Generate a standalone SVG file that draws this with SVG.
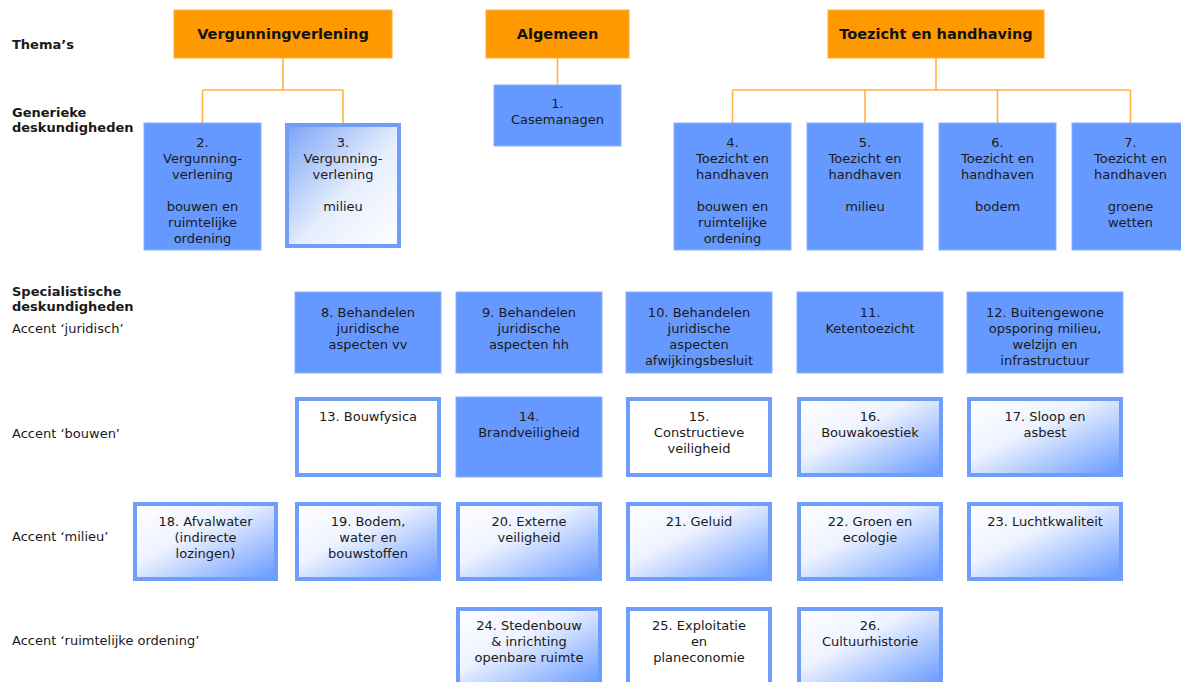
<svg xmlns="http://www.w3.org/2000/svg" width="1181" height="682" viewBox="0 0 1181 682">
<defs>
<linearGradient id="gw" x1="0" y1="0" x2="1" y2="1">
<stop offset="0" stop-color="#ffffff"/>
<stop offset="0.4" stop-color="#eef3ff"/>
<stop offset="1" stop-color="#6699ff"/>
</linearGradient>
<linearGradient id="gb" x1="0" y1="0" x2="1" y2="1">
<stop offset="0" stop-color="#7aa3f6"/>
<stop offset="0.55" stop-color="#e6eefd"/>
<stop offset="1" stop-color="#ffffff"/>
</linearGradient>
<style>
.or{fill:#FF9900;stroke:#FFAB3A;stroke-width:1}
.ti{font-family:"DejaVu Sans",Verdana,sans-serif;font-size:14.5px;font-weight:bold;fill:#111;text-anchor:middle}
.so{fill:#6699FF;stroke:#88B0FF;stroke-width:1}
.ou{fill:#ffffff;stroke:#6E9EF9;stroke-width:4}
.gr{fill:url(#gw);stroke:#6E9EF9;stroke-width:4}
.gb{fill:url(#gb);stroke:#6E9EF9;stroke-width:4}
.t{font-family:"DejaVu Sans",Verdana,sans-serif;font-size:13px;fill:#1a1a1a;text-anchor:middle}
.lb{font-family:"DejaVu Sans",Verdana,sans-serif;font-size:13px;fill:#1a1a1a}
.bd{font-weight:bold}
.cn{stroke:#FFB347;stroke-width:1.6;fill:none}
</style>
</defs>
<rect width="1181" height="682" fill="#ffffff"/>

<g id="labels">
<text class="lb bd" x="12" y="49">Thema’s</text>
<text class="lb bd" x="12" y="117">Generieke</text>
<text class="lb bd" x="12" y="132">deskundigheden</text>
<text class="lb bd" x="12" y="296">Specialistische</text>
<text class="lb bd" x="12" y="311">deskundigheden</text>
<text class="lb" x="12" y="333">Accent ‘juridisch’</text>
<text class="lb" x="12" y="438">Accent ‘bouwen’</text>
<text class="lb" x="12" y="541">Accent ‘milieu’</text>
<text class="lb" x="12" y="645">Accent ‘ruimtelijke ordening’</text>
</g>

<g id="connectors">
<path class="cn" d="M283 58V90M202.5 90H343M202.5 90V123M343 90V123"/>
<path class="cn" d="M557.5 58V85"/>
<path class="cn" d="M936 58V90M732.5 90H1130.5M732.5 90V123M865 90V123M997.5 90V123M1130.5 90V123"/>
</g>

<g id="theme-vergunningverlening"><rect class="or" x="174" y="10" width="218" height="48"/><text class="ti" x="283" y="39">Vergunningverlening</text></g>
<g id="theme-algemeen"><rect class="or" x="486" y="10" width="143" height="48"/><text class="ti" x="557.5" y="39">Algemeen</text></g>
<g id="theme-toezicht"><rect class="or" x="828" y="10" width="216" height="48"/><text class="ti" x="936" y="39">Toezicht en handhaving</text></g>

<g id="n1"><rect class="so" x="494" y="85" width="127" height="61"/><text class="t" x="557.5" y="108">1.<tspan x="557.5" dy="16">Casemanagen</tspan></text></g>
<g id="n2"><rect class="so" x="144" y="123" width="117" height="127"/><text class="t" x="202.5" y="147">2.<tspan x="202.5" dy="16">Vergunning-</tspan><tspan x="202.5" dy="16">verlening</tspan><tspan x="202.5" dy="32">bouwen en</tspan><tspan x="202.5" dy="16">ruimtelijke</tspan><tspan x="202.5" dy="16">ordening</tspan></text></g>
<g id="n3"><rect class="gb" x="287" y="125" width="112" height="121"/><text class="t" x="343" y="147">3.<tspan x="343" dy="16">Vergunning-</tspan><tspan x="343" dy="16">verlening</tspan><tspan x="343" dy="32">milieu</tspan></text></g>
<g id="n4"><rect class="so" x="674" y="123" width="117" height="127"/><text class="t" x="732.5" y="147">4.<tspan x="732.5" dy="16">Toezicht en</tspan><tspan x="732.5" dy="16">handhaven</tspan><tspan x="732.5" dy="32">bouwen en</tspan><tspan x="732.5" dy="16">ruimtelijke</tspan><tspan x="732.5" dy="16">ordening</tspan></text></g>
<g id="n5"><rect class="so" x="807" y="123" width="116" height="127"/><text class="t" x="865" y="147">5.<tspan x="865" dy="16">Toezicht en</tspan><tspan x="865" dy="16">handhaven</tspan><tspan x="865" dy="32">milieu</tspan></text></g>
<g id="n6"><rect class="so" x="939" y="123" width="117" height="127"/><text class="t" x="997.5" y="147">6.<tspan x="997.5" dy="16">Toezicht en</tspan><tspan x="997.5" dy="16">handhaven</tspan><tspan x="997.5" dy="32">bodem</tspan></text></g>
<g id="n7"><rect class="so" x="1072" y="123" width="117" height="127"/><text class="t" x="1130.5" y="147">7.<tspan x="1130.5" dy="16">Toezicht en</tspan><tspan x="1130.5" dy="16">handhaven</tspan><tspan x="1130.5" dy="32">groene</tspan><tspan x="1130.5" dy="16">wetten</tspan></text></g>

<g id="n8"><rect class="so" x="295" y="292" width="146" height="81"/><text class="t" x="368" y="317">8. Behandelen<tspan x="368" dy="16">juridische</tspan><tspan x="368" dy="16">aspecten vv</tspan></text></g>
<g id="n9"><rect class="so" x="456" y="292" width="146" height="81"/><text class="t" x="529" y="317">9. Behandelen<tspan x="529" dy="16">juridische</tspan><tspan x="529" dy="16">aspecten hh</tspan></text></g>
<g id="n10"><rect class="so" x="626" y="292" width="146" height="81"/><text class="t" x="699" y="317">10. Behandelen<tspan x="699" dy="16">juridische</tspan><tspan x="699" dy="16">aspecten</tspan><tspan x="699" dy="16">afwijkingsbesluit</tspan></text></g>
<g id="n11"><rect class="so" x="797" y="292" width="146" height="81"/><text class="t" x="870" y="317">11.<tspan x="870" dy="16">Ketentoezicht</tspan></text></g>
<g id="n12"><rect class="so" x="967" y="292" width="156" height="81"/><text class="t" x="1045" y="317">12. Buitengewone<tspan x="1045" dy="16">opsporing milieu,</tspan><tspan x="1045" dy="16">welzijn en</tspan><tspan x="1045" dy="16">infrastructuur</tspan></text></g>

<g id="n13"><rect class="ou" x="297" y="399" width="142" height="76"/><text class="t" x="368" y="421">13. Bouwfysica</text></g>
<g id="n14"><rect class="so" x="456" y="397" width="146" height="80"/><text class="t" x="529" y="421">14.<tspan x="529" dy="16">Brandveiligheid</tspan></text></g>
<g id="n15"><rect class="ou" x="628" y="399" width="142" height="76"/><text class="t" x="699" y="421">15.<tspan x="699" dy="16">Constructieve</tspan><tspan x="699" dy="16">veiligheid</tspan></text></g>
<g id="n16"><rect class="gr" x="799" y="399" width="142" height="76"/><text class="t" x="870" y="421">16.<tspan x="870" dy="16">Bouwakoestiek</tspan></text></g>
<g id="n17"><rect class="gr" x="969" y="399" width="152" height="76"/><text class="t" x="1045" y="421">17. Sloop en<tspan x="1045" dy="16">asbest</tspan></text></g>

<g id="n18"><rect class="gr" x="135" y="504" width="141" height="75"/><text class="t" x="205.5" y="526">18. Afvalwater<tspan x="205.5" dy="16">(indirecte</tspan><tspan x="205.5" dy="16">lozingen)</tspan></text></g>
<g id="n19"><rect class="gr" x="297" y="504" width="142" height="75"/><text class="t" x="368" y="526">19. Bodem,<tspan x="368" dy="16">water en</tspan><tspan x="368" dy="16">bouwstoffen</tspan></text></g>
<g id="n20"><rect class="gr" x="458" y="504" width="142" height="75"/><text class="t" x="529" y="526">20. Externe<tspan x="529" dy="16">veiligheid</tspan></text></g>
<g id="n21"><rect class="gr" x="628" y="504" width="142" height="75"/><text class="t" x="699" y="526">21. Geluid</text></g>
<g id="n22"><rect class="gr" x="799" y="504" width="142" height="75"/><text class="t" x="870" y="526">22. Groen en<tspan x="870" dy="16">ecologie</tspan></text></g>
<g id="n23"><rect class="gr" x="969" y="504" width="152" height="75"/><text class="t" x="1045" y="526">23. Luchtkwaliteit</text></g>

<g id="n24"><rect class="gr" x="458" y="609" width="142" height="76"/><text class="t" x="529" y="630">24. Stedenbouw<tspan x="529" dy="16">&amp; inrichting</tspan><tspan x="529" dy="16">openbare ruimte</tspan></text></g>
<g id="n25"><rect class="ou" x="628" y="609" width="142" height="76"/><text class="t" x="699" y="630">25. Exploitatie<tspan x="699" dy="16">en</tspan><tspan x="699" dy="16">planeconomie</tspan></text></g>
<g id="n26"><rect class="gr" x="799" y="609" width="142" height="76"/><text class="t" x="870" y="630">26.<tspan x="870" dy="16">Cultuurhistorie</tspan></text></g>
</svg>
